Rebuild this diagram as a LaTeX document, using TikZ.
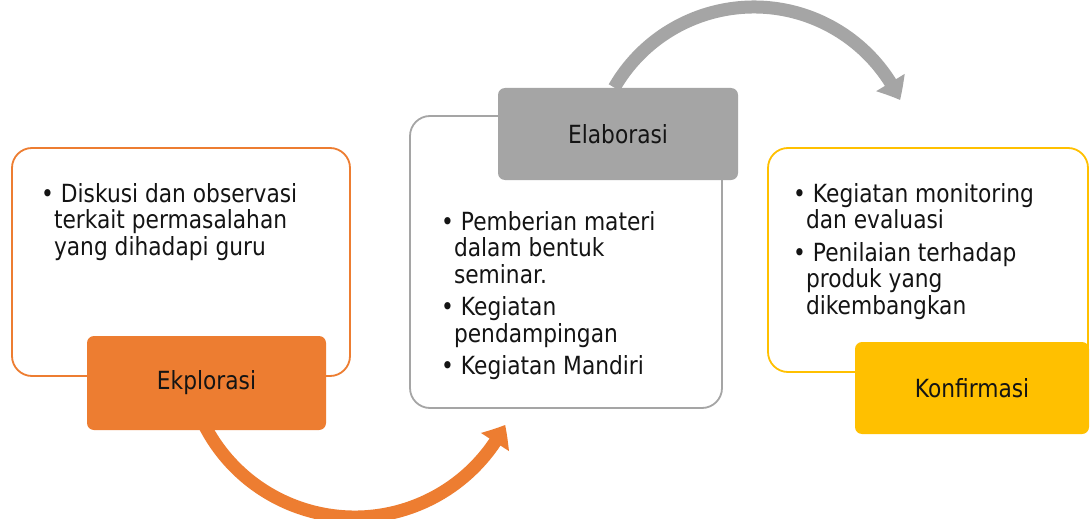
\documentclass[tikz,border=0pt]{standalone}
\usepackage{fontspec}
\setmainfont{DejaVu Sans}[FakeStretch=0.87]
\usetikzlibrary{arrows.meta,bending,calc}
\definecolor{orng}{HTML}{ED7D31}
\definecolor{gry}{HTML}{A5A5A5}
\definecolor{yel}{HTML}{FFC000}
\definecolor{txt}{HTML}{141414}
\begin{document}
\begin{tikzpicture}[x=1pt,y=1pt,
  outerbox/.style={draw=#1, line width=1.8pt, rounded corners=20pt, fill=white, inner sep=0pt},
  labelbox/.style={fill=#1, rounded corners=7pt, inner sep=0pt, text=txt,
    font=\fontsize{25}{26}\selectfont},
  bul/.style={font=\fontsize{25}{26.5}\selectfont, align=left, inner sep=0pt, text=txt, anchor=north west},
  arr/.style={draw=#1, line width=13pt, -{Triangle[width=32pt,length=20pt,bend]}}
]
\useasboundingbox (0,0) rectangle (1090,-519);
\fill[white] (0,0) rectangle (1090,-519);

% arrows (drawn first, boxes cover their starts)
\coordinate (a1s) at ($(354.7,-348.2)+(205:168.8)$);
\draw[arr=orng] (a1s) arc[start angle=205, end angle=333, radius=168.8];
\coordinate (a2s) at ($(753.9,-168.2)+(150:161.2)$);
\draw[arr=gry] (a2s) arc[start angle=150, end angle=25, radius=161.2];

% outer boxes
\node[outerbox=orng, minimum width=338pt, minimum height=228pt] (b1) at (181,-262) {};
\node[outerbox=gry, minimum width=312pt, minimum height=292pt] (b2) at (566,-262) {};
\node[outerbox=yel, minimum width=320pt, minimum height=224pt] (b3) at (928,-260) {};

% label boxes
\node[labelbox=orng, minimum width=239pt, minimum height=94pt] (ek) at (206.5,-383) {Ekplorasi};
\node[labelbox=gry, minimum width=240pt, minimum height=92pt] (el) at (618,-134) {Elaborasi};
\node[labelbox=yel, minimum width=234pt, minimum height=92pt] (ko) at (972,-388) {Konfirmasi};

% texts
\node[bul] (t1) at (41,-183) {• Diskusi dan observasi\\\hphantom{•}terkait permasalahan\\\hphantom{•}yang dihadapi guru};
\node[bul] (t2) at (441,-211) {• Pemberian materi\\\hphantom{•}dalam bentuk\\\hphantom{•}seminar.\\[6pt]• Kegiatan\\\hphantom{•}pendampingan\\[6pt]• Kegiatan Mandiri};
\node[bul] (t3) at (793,-183) {• Kegiatan monitoring\\\hphantom{•}dan evaluasi\\[6pt]• Penilaian terhadap\\\hphantom{•}produk yang\\\hphantom{•}dikembangkan};
\end{tikzpicture}
\end{document}
